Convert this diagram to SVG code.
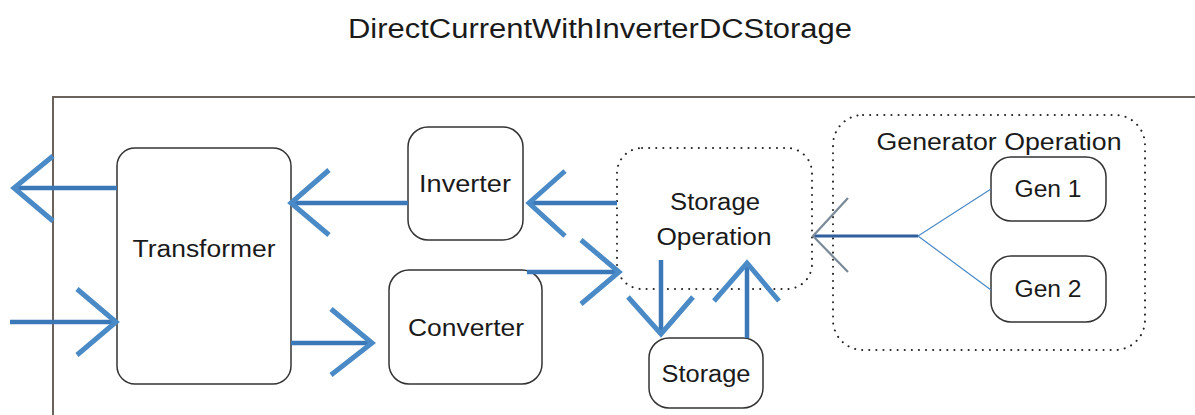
<svg xmlns="http://www.w3.org/2000/svg" width="1195" height="415" viewBox="0 0 1195 415">
<style>
text{font-family:"Liberation Sans",Arial,sans-serif;fill:#1a1a1a;text-anchor:middle}
.lbl{font-size:23px}
.box{fill:#fff;stroke:#333;stroke-width:1.5}
.dot{fill:none;stroke:#222;stroke-width:2;stroke-dasharray:0.1 7;stroke-linecap:round}
.ln{fill:none;stroke:#3b78b8;stroke-width:4.5}
.ah{fill:none;stroke:#4a8ac6;stroke-width:5}
.thin{fill:none;stroke:#4a8ac6;stroke-width:1.2}
</style>
<rect width="1195" height="415" fill="#fff"/>
<text x="600" y="38" font-size="27" textLength="504" lengthAdjust="spacingAndGlyphs">DirectCurrentWithInverterDCStorage</text>
<path d="M53,415 V97 H1195" fill="none" stroke="#6b625c" stroke-width="2"/>
<g id="storage-operation"><rect class="dot" x="617" y="148" width="195" height="141" rx="25"/><text class="lbl" x="715" y="210" textLength="90" lengthAdjust="spacingAndGlyphs">Storage</text><text class="lbl" x="714" y="245" textLength="115" lengthAdjust="spacingAndGlyphs">Operation</text></g>
<g id="generator-operation"><rect class="dot" x="833" y="115" width="312" height="235" rx="30"/><text class="lbl" x="999" y="150" textLength="245" lengthAdjust="spacingAndGlyphs">Generator Operation</text></g>
<g id="transformer"><rect class="box" x="117" y="148" width="174" height="236" rx="18"/><text class="lbl" x="204" y="257" textLength="143" lengthAdjust="spacingAndGlyphs">Transformer</text></g>
<g id="inverter"><rect class="box" x="408" y="127" width="115" height="113" rx="20"/><text class="lbl" x="465" y="192" textLength="92" lengthAdjust="spacingAndGlyphs">Inverter</text></g>
<g id="converter"><rect class="box" x="389" y="270" width="153" height="114" rx="20"/><text class="lbl" x="466" y="336" textLength="116" lengthAdjust="spacingAndGlyphs">Converter</text></g>
<g id="storage"><rect class="box" x="649" y="338" width="114" height="70" rx="20"/><text class="lbl" x="706" y="382" textLength="89" lengthAdjust="spacingAndGlyphs">Storage</text></g>
<g id="gen1"><rect class="box" x="991" y="157" width="115" height="64" rx="20"/><text class="lbl" x="1048" y="197" textLength="67" lengthAdjust="spacingAndGlyphs">Gen 1</text></g>
<g id="gen2"><rect class="box" x="991" y="256" width="115" height="66" rx="20"/><text class="lbl" x="1048" y="297" textLength="67" lengthAdjust="spacingAndGlyphs">Gen 2</text></g>
<g id="connectors">
<path class="ln" d="M117,188 H15"/><path class="ah" d="M53,156 L14,188 L53,221"/>
<path class="ln" d="M10,322 H115"/><path class="ah" d="M77,289 L116,322 L77,355"/>
<path class="ln" d="M291,343 H371"/><path class="ah" d="M331,309 L372,343 L331,375"/>
<path class="ln" d="M408,203 H292"/><path class="ah" d="M329,170 L291,203 L329,235"/>
<path class="ln" d="M617,203 H530"/><path class="ah" d="M565,171 L529,203 L565,236"/>
<path class="ln" d="M527,272 H618"/><path class="ah" d="M581,240 L619,272 L581,304"/>
<path class="ln" d="M661,260 V333"/><path class="ah" d="M628,297 L661,334 L693,297"/>
<path class="ln" d="M747,338 V264"/><path class="ah" d="M714,301 L747,263 L779,301"/>
<path class="thin" d="M991,189 L918,236 L991,290"/>
<path d="M918,236 H814" fill="none" stroke="#2f5f9e" stroke-width="3"/>
<path d="M848,198 L813,236 L848,272" fill="none" stroke="#7a8a98" stroke-width="2.2"/>
</g>
</svg>
